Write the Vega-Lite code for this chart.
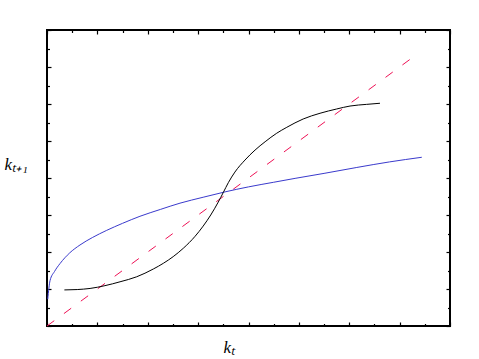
{
  "$schema": "https://vega.github.io/schema/vega-lite/v6.json",
  "width": 403,
  "height": 296,
  "autosize": "none",
  "padding": {"left": 47, "top": 30, "right": 29, "bottom": 33},
  "background": "white",
  "config": {
    "view": {"stroke": "black", "strokeWidth": 2},
    "axis": {"grid": false, "labels": false, "domain": false, "tickColor": "black", "tickWidth": 1.2,
      "tickCount": 16, "values": [0,1,2,3,4,5,6,7,8,9,10,11,12,13,14,15,16],
      "tickSize": {"condition": {"test": "datum.value % 2 === 0", "value": -4}, "value": -2.5},
      "titleFont": "Liberation Serif", "titleFontStyle": "italic", "titleFontWeight": "normal", "titleFontSize": 17, "titleColor": "black"}
  },
  "datasets": {
    "diag": [{"k": 0, "v": 0}, {"k": 14.41, "v": 14.41}],
    "blue": [
      {"k": 0.03, "v": 1.45}, {"k": 0.12, "v": 2.45}, {"k": 0.3, "v": 2.95}, {"k": 0.52, "v": 3.38},
      {"k": 0.9, "v": 3.95}, {"k": 1.31, "v": 4.38}, {"k": 1.8, "v": 4.78}, {"k": 2.37, "v": 5.17},
      {"k": 3.0, "v": 5.55}, {"k": 3.69, "v": 5.93}, {"k": 4.5, "v": 6.3}, {"k": 5.28, "v": 6.64},
      {"k": 6.2, "v": 6.96}, {"k": 7.07, "v": 7.25}, {"k": 8.0, "v": 7.52}, {"k": 9.0, "v": 7.77},
      {"k": 9.85, "v": 7.98}, {"k": 11.0, "v": 8.25}, {"k": 12.3, "v": 8.57}, {"k": 13.6, "v": 8.87},
      {"k": 14.88, "v": 9.12}
    ],
    "black": [
      {"k": 0.69, "v": 1.95}, {"k": 1.2, "v": 1.97}, {"k": 1.71, "v": 2.03}, {"k": 2.3, "v": 2.18},
      {"k": 2.9, "v": 2.39}, {"k": 3.56, "v": 2.66}, {"k": 4.22, "v": 3.08}, {"k": 4.62, "v": 3.39},
      {"k": 5.01, "v": 3.75}, {"k": 5.41, "v": 4.2}, {"k": 5.88, "v": 4.85}, {"k": 6.2, "v": 5.4},
      {"k": 6.5, "v": 6.0}, {"k": 6.8, "v": 6.7}, {"k": 7.0, "v": 7.22}, {"k": 7.2, "v": 7.75},
      {"k": 7.46, "v": 8.32}, {"k": 7.86, "v": 8.97}, {"k": 8.26, "v": 9.51}, {"k": 8.66, "v": 9.96},
      {"k": 9.12, "v": 10.42}, {"k": 9.52, "v": 10.74}, {"k": 10.17, "v": 11.19}, {"k": 10.84, "v": 11.5},
      {"k": 11.5, "v": 11.73}, {"k": 12.03, "v": 11.89}, {"k": 12.69, "v": 11.98}, {"k": 13.22, "v": 12.04}
    ]
  },
  "layer": [
    {
      "data": {"name": "diag"},
      "mark": {"type": "line", "color": "#ee1155", "strokeWidth": 1, "strokeDash": [9, 12]},
      "encoding": {
        "x": {"field": "k", "type": "quantitative", "scale": {"domain": [0, 16], "nice": false, "zero": false},
          "axis": {"orient": "bottom", "title": "kₜ", "titleX": 176, "titleY": 26, "titleBaseline": "alphabetic", "titleAlign": "left"}},
        "y": {"field": "v", "type": "quantitative", "scale": {"domain": [0, 16], "nice": false, "zero": false},
          "axis": {"orient": "left", "title": "kₜ₊₁", "titleAngle": 0, "titleX": -43, "titleY": 139, "titleAlign": "left", "titleBaseline": "alphabetic"}}
      }
    },
    {
      "data": {"name": "blue"},
      "mark": {"type": "line", "color": "#3a3acc", "strokeWidth": 1, "interpolate": "monotone"},
      "encoding": {
        "x": {"field": "k", "type": "quantitative", "axis": {"orient": "top", "title": null}},
        "y": {"field": "v", "type": "quantitative", "axis": {"orient": "right", "title": null}}
      }
    },
    {
      "data": {"name": "black"},
      "mark": {"type": "line", "color": "black", "strokeWidth": 1, "interpolate": "monotone"},
      "encoding": {
        "x": {"field": "k", "type": "quantitative", "axis": null},
        "y": {"field": "v", "type": "quantitative", "axis": null}
      }
    }
  ],
  "resolve": {"axis": {"x": "independent", "y": "independent"}}
}
